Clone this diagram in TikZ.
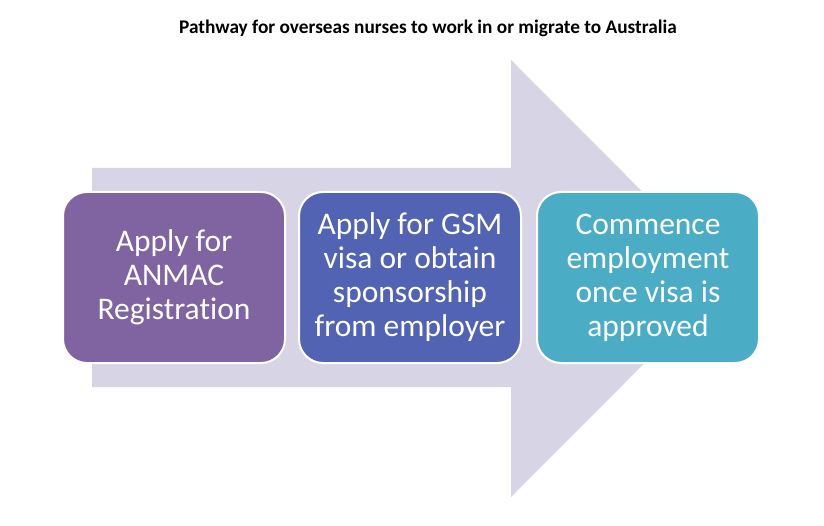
\documentclass[tikz,border=0pt]{standalone}
\usepackage{fontspec}
\setmainfont{Carlito}[Ligatures={NoCommon}]
\begin{document}
\begin{tikzpicture}[x=1pt,y=-1pt,
  stepbox/.style={draw=white,line width=2pt,rounded corners=24pt,
    minimum width=222pt,minimum height=171pt,text=white,align=center,
    inner sep=2pt,font=\fontsize{31.5}{34}\selectfont},
  bigarrow/.style={fill=arrowfill}]
\definecolor{arrowfill}{HTML}{D7D4E6}
\definecolor{boxA}{HTML}{8064A2}
\definecolor{boxB}{HTML}{5163B2}
\definecolor{boxC}{HTML}{4BACC6}
\useasboundingbox (0,0) rectangle (824,526);
\fill[white] (0,0) rectangle (824,526);
\node[font=\bfseries\fontsize{19.3}{22}\selectfont] (title) at (428,28) {Pathway for overseas nurses to work in or migrate to Australia};
\path[bigarrow] (92,168) -- (511,168) -- (511,60) -- (729,278.5) -- (511,497) -- (511,387) -- (92,387) -- cycle;
\node[stepbox,fill=boxA] (s1) at (174,277.5) {Apply for\\ANMAC\\Registration};
\node[stepbox,fill=boxB] (s2) at (410,277.5) {Apply for GSM\\visa or obtain\\sponsorship\\from employer};
\node[stepbox,fill=boxC] (s3) at (648,277.5) {Commence\\employment\\once visa is\\approved};
\end{tikzpicture}
\end{document}
